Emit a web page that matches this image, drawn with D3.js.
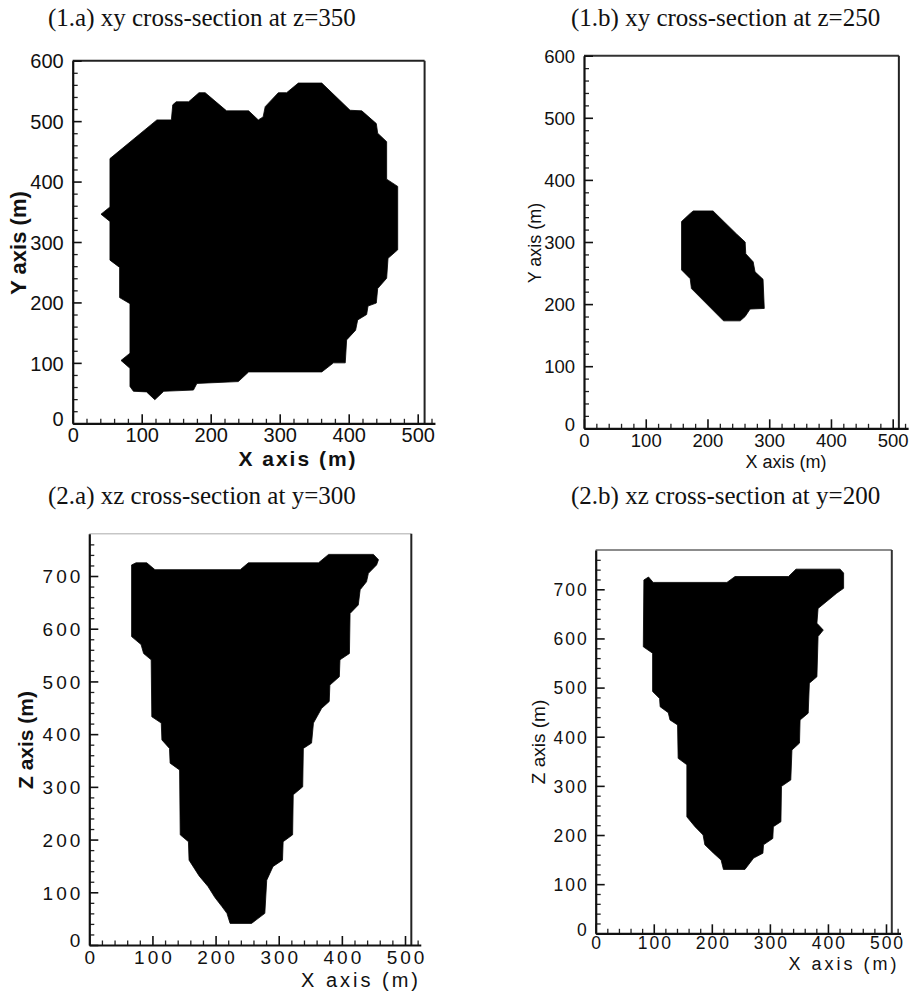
<!DOCTYPE html>
<html>
<head>
<meta charset="utf-8">
<script src="https://cdn.jsdelivr.net/npm/d3@7/dist/d3.min.js"></script>
<style>
  html, body { margin: 0; padding: 0; background: #fff; }
  svg { display: block; }
</style>
</head>
<body>
<svg id="chart" width="913" height="993"></svg>
<script>
// ---------- DATA ----------
const titles = [
  "(1.a) xy cross-section at z=350",
  "(1.b) xy cross-section at z=250",
  "(2.a) xz cross-section at y=300",
  "(2.b) xz cross-section at y=200"
];
const xTicks = [0, 100, 200, 300, 400, 500];
const yTicksXY = [0, 100, 200, 300, 400, 500, 600];
const zTicks = [0, 100, 200, 300, 400, 500, 600, 700];

// outline of the black region, [x (m), y or z (m)]
const shape1a = [
  [54,438],[122,502],[143,502],[145,527],[150,532],[168,532],[183,547],[192,547],
  [223,517],[255,517],[269,502],[276,507],[279,524],[298,547],[310,547],[327,563],
  [361,563],[402,518],[419,517],[440,496],[442,480],[455,466],[455,404],[471,392],
  [471,287],[457,273],[455,240],[442,223],[440,199],[428,194],[426,180],[413,171],
  [410,154],[397,138],[395,100],[378,100],[361,85],[255,85],[240,69],[180,66],
  [175,55],[132,53],[119,39],[107,52],[88,53],[83,61],[83,91],[70,104],[83,116],
  [83,198],[68,208],[68,258],[54,270],[54,334],[41,346],[54,358]
];
const shape1b = [
  [177,350],[209,350],[247,313],[261,300],[262,281],[274,268],[277,252],[290,240],
  [292,193],[269,192],[261,180],[253,173],[226,173],[174,225],[172,241],[158,255],
  [158,333],[172,346]
];
const shape2a = [
  [67,721],[74,725],[91,725],[104,712],[239,712],[252,725],[363,725],[379,741],
  [450,741],[458,731],[455,721],[442,705],[439,689],[429,674],[426,645],[413,629],
  [412,553],[397,541],[396,509],[381,493],[380,462],[368,449],[355,421],[352,383],
  [339,373],[338,300],[323,285],[322,209],[307,196],[306,161],[291,149],[281,123],
  [278,60],[257,41],[223,41],[218,60],[210,73],[199,90],[188,111],[174,131],
  [158,161],[157,196],[144,209],[143,332],[128,345],[127,373],[115,389],[114,421],
  [99,433],[98,541],[86,553],[82,570],[67,585]
];
const shape2b = [
  [83,719],[91,725],[99,714],[226,714],[240,726],[332,726],[345,741],[421,741],
  [427,733],[427,702],[415,692],[383,661],[381,631],[392,617],[383,604],[381,522],
  [368,509],[366,448],[352,434],[351,387],[338,373],[336,312],[320,299],[319,227],
  [306,217],[305,193],[289,180],[288,163],[272,153],[257,130],[220,130],[216,149],
  [203,163],[188,180],[185,200],[171,217],[157,237],[157,343],[142,356],[141,424],
  [128,434],[125,449],[111,461],[110,478],[98,492],[98,570],[82,583]
];

// ---------- LAYOUT ----------
const panels = [
  { title: titles[0], tx: 48, ty: 26, shape: shape1a, yTicks: yTicksXY, yTop: 600,
    x0: 72.7, x500: 417.7, y0: 423.3, yRef: 600, yRefPx: 60.7,
    tickFont: 20, tickSpacing: 0, xTickY: 19, frameColor: "#222", topColor: "#222", topW: 2,
    xLab: { text: "X axis (m)", x: 298, y: 466, size: 21, weight: "bold", spacing: 2 },
    yLab: { text: "Y axis (m)", x: 26, y: 243, size: 22, weight: "bold", spacing: 0 } },
  { title: titles[1], tx: 571, ty: 26, shape: shape1b, yTicks: yTicksXY, yTop: 600,
    x0: 584, x500: 892.7, y0: 428.3, yRef: 600, yRefPx: 55.7,
    tickFont: 18.5, tickSpacing: 0, xTickY: 19, frameColor: "#222", topColor: "#333", topW: 2,
    xLab: { text: "X axis (m)", x: 786, y: 468, size: 18, weight: "normal", spacing: 0 },
    yLab: { text: "Y axis (m)", x: 541, y: 243, size: 18, weight: "normal", spacing: 0 } },
  { title: titles[2], tx: 48, ty: 504, shape: shape2a, yTicks: zTicks, yTop: 780,
    x0: 89.3, x500: 405, y0: 945, yRef: 700, yRefPx: 576,
    tickFont: 19, tickSpacing: 3, xTickY: 19, frameColor: "#222", topColor: "#aaa", topW: 1,
    xLab: { text: "X axis (m)", x: 361, y: 987, size: 20, weight: "normal", spacing: 3 },
    yLab: { text: "Z axis (m)", x: 33, y: 740, size: 21, weight: "bold", spacing: 0 } },
  { title: titles[3], tx: 571, ty: 504, shape: shape2b, yTicks: zTicks, yTop: 780,
    x0: 595.7, x500: 886, y0: 933.3, yRef: 700, yRefPx: 589.3,
    tickFont: 17.5, tickSpacing: 2, xTickY: 16, frameColor: "#333", topColor: "#666", topW: 1.5,
    xLab: { text: "X axis (m)", x: 844, y: 970, size: 18, weight: "normal", spacing: 3 },
    yLab: { text: "Z axis (m)", x: 545, y: 742, size: 19, weight: "normal", spacing: 0 } }
];

const svg = d3.select("#chart");
svg.append("defs").append("filter").attr("id", "soft")
  .append("feGaussianBlur").attr("stdDeviation", 0.6);

const X_FRAME = 510, X_AXIS_END = 525;

panels.forEach(p => {
  const g = svg.append("g");
  const pxPerX = (p.x500 - p.x0) / 500;
  const pxPerY = (p.y0 - p.yRefPx) / p.yRef;
  const x = d3.scaleLinear().domain([0, X_AXIS_END]).range([p.x0, p.x0 + pxPerX * X_AXIS_END]);
  const y = d3.scaleLinear().domain([0, p.yTop]).range([p.y0, p.y0 - pxPerY * p.yTop]);

  // title
  svg.append("text")
    .attr("x", p.tx).attr("y", p.ty)
    .attr("font-family", "'Liberation Serif', 'Times New Roman', serif")
    .attr("font-size", 25)
    .attr("fill", "#111")
    .text(p.title);

  // shape
  g.append("path")
    .datum(p.shape)
    .attr("d", d3.line().x(d => x(d[0])).y(d => y(d[1])).curve(d3.curveLinearClosed))
    .attr("fill", "#000")
    .attr("stroke", "#000")
    .attr("stroke-width", 0.8)
    .attr("stroke-linejoin", "round")
    .attr("filter", "url(#soft)");

  // frame: top and right
  g.append("line")
    .attr("x1", x(0)).attr("x2", x(X_FRAME)).attr("y1", y(p.yTop)).attr("y2", y(p.yTop))
    .attr("stroke", p.topColor).attr("stroke-width", p.topW);
  g.append("line")
    .attr("x1", x(X_FRAME)).attr("x2", x(X_FRAME)).attr("y1", y(p.yTop)).attr("y2", y(0))
    .attr("stroke", p.frameColor).attr("stroke-width", 2);

  const minorX = d3.range(20, X_AXIS_END, 20).filter(v => v % 100 !== 0);
  const minorY = d3.range(20, p.yTop, 20).filter(v => v % 100 !== 0);

  // minor ticks
  g.append("g").attr("transform", `translate(0,${y(0)})`)
    .call(d3.axisBottom(x).tickValues(minorX).tickSize(-4.5).tickSizeOuter(0).tickFormat(""))
    .call(a => a.select(".domain").remove())
    .call(a => a.selectAll("line").attr("stroke", "#222").attr("stroke-width", 1.3));
  g.append("g").attr("transform", `translate(${x(0)},0)`)
    .call(d3.axisLeft(y).tickValues(minorY).tickSize(-5).tickSizeOuter(0).tickFormat(""))
    .call(a => a.select(".domain").remove())
    .call(a => a.selectAll("line").attr("stroke", "#222").attr("stroke-width", 1.3));

  // major x axis
  const ax = g.append("g").attr("transform", `translate(0,${y(0)})`)
    .call(d3.axisBottom(x).tickValues(xTicks).tickSize(-9).tickSizeOuter(0).tickPadding(7))
    .call(a => a.select(".domain").attr("stroke", "#111").attr("stroke-width", 2.2))
    .call(a => a.selectAll(".tick line").attr("stroke", "#111").attr("stroke-width", 1.6));
  ax.selectAll(".tick text")
    .attr("y", p.xTickY).attr("dy", 0)
    .attr("dx", p.tickSpacing / 2)
    .attr("fill", "#111")
    .style("font-family", "'Liberation Sans', Arial, sans-serif")
    .style("font-size", p.tickFont + "px")
    .style("letter-spacing", p.tickSpacing + "px");

  // major y axis
  const ay = g.append("g").attr("transform", `translate(${x(0)},0)`)
    .call(d3.axisLeft(y).tickValues(p.yTicks).tickSize(-9).tickSizeOuter(0).tickPadding(9))
    .call(a => a.select(".domain").attr("stroke", "#111").attr("stroke-width", 2.2))
    .call(a => a.selectAll(".tick line").attr("stroke", "#111").attr("stroke-width", 1.6));
  ay.selectAll(".tick text")
    .attr("fill", "#111")
    .attr("dy", "0.36em")
    .attr("dx", p.tickSpacing)
    .style("font-family", "'Liberation Sans', Arial, sans-serif")
    .style("font-size", p.tickFont + "px")
    .style("letter-spacing", p.tickSpacing + "px");
  ay.selectAll(".tick").filter(d => d === 0).select("text").attr("dy", "0.1em");

  // axis labels
  svg.append("text")
    .attr("x", p.xLab.x).attr("y", p.xLab.y)
    .attr("text-anchor", "middle")
    .attr("font-family", "'Liberation Sans', Arial, sans-serif")
    .attr("font-size", p.xLab.size).attr("font-weight", p.xLab.weight)
    .style("letter-spacing", p.xLab.spacing + "px")
    .attr("fill", "#111")
    .text(p.xLab.text);
  svg.append("text")
    .attr("transform", `translate(${p.yLab.x},${p.yLab.y}) rotate(-90)`)
    .attr("text-anchor", "middle")
    .attr("font-family", "'Liberation Sans', Arial, sans-serif")
    .attr("font-size", p.yLab.size).attr("font-weight", p.yLab.weight)
    .style("letter-spacing", p.yLab.spacing + "px")
    .attr("fill", "#111")
    .text(p.yLab.text);
});
</script>
</body>
</html>
